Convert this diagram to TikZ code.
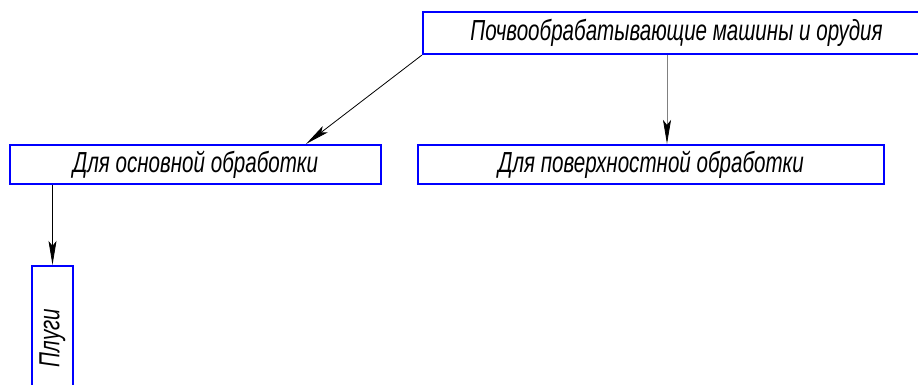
\documentclass[tikz,border=0pt]{standalone}
\usepackage{fontspec}
\newfontfamily\gost[FakeStretch=0.71]{Liberation Sans}
\usetikzlibrary{arrows.meta}
\begin{document}
\begin{tikzpicture}[x=1pt,y=-1pt,
  blk/.style={draw=blue, line width=2.2pt, inner sep=0pt, font=\gost\itshape\fontsize{29}{32}\selectfont},
  arr/.style={-{Stealth[length=24pt,width=8pt,inset=5pt,color=black]}, line width=0.8pt}]
\useasboundingbox (0,0) rectangle (918,385);
\clip (0,0) rectangle (918,385);
\node[blk, minimum width=507pt, minimum height=42pt] (top) at (676.5,33) {Почвообрабатывающие машины и орудия};
\node[blk, minimum width=371pt, minimum height=39pt] (osn) at (195.5,164.5) {Для основной обработки};
\node[blk, minimum width=466pt, minimum height=39pt] (surf) at (651,164.5) {Для поверхностной обработки};
\node[blk, minimum width=144pt, minimum height=41pt, rotate=90] (plug) at (52.5,338) {Плуги};
\draw[arr] (top.south west) -- ([xshift=-76pt]osn.north east);
\draw[arr, draw=gray] ([xshift=-9.5pt]top.south) -- ([xshift=-9.5pt]top.south |- surf.north);
\draw[arr] (osn.south -| plug.east) -- (plug.east);
\end{tikzpicture}
\end{document}
